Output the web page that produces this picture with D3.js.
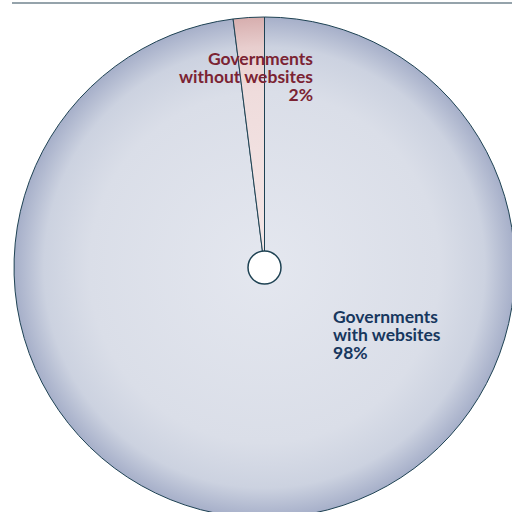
<!DOCTYPE html>
<html><head><meta charset="utf-8">
<script src="https://cdn.jsdelivr.net/npm/d3@7"></script>
<style>html,body{margin:0;padding:0;background:#fff;}svg{display:block;}</style>
</head><body>
<svg id="c" width="512" height="512"></svg>
<script>
const categories = ["Governments with websites", "Governments without websites"];
const values = [98, 2];
const labelLines = [["Governments", "with websites", "98%"], ["Governments", "without websites", "2%"]];

const W = 512, H = 512;
const cx = 264.5, cy = 267.5, R = 250.5, r0 = 16.5;
const svg = d3.select("#c");

const defs = svg.append("defs");
const g1 = defs.append("radialGradient").attr("id", "gBlue").attr("gradientUnits", "userSpaceOnUse")
  .attr("cx", 0).attr("cy", 0).attr("r", R);
[[0, "#e4e7ef"], [0.7, "#dadee8"], [0.88, "#ccd2e0"], [1, "#a6afc9"]].forEach(s =>
  g1.append("stop").attr("offset", s[0]).attr("stop-color", s[1]));
const g2 = defs.append("radialGradient").attr("id", "gPink").attr("gradientUnits", "userSpaceOnUse")
  .attr("cx", 0).attr("cy", 0).attr("r", R);
[[0, "#f5e8e8"], [0.7, "#efdcdc"], [0.88, "#e8cece"], [1, "#d7aeae"]].forEach(s =>
  g2.append("stop").attr("offset", s[0]).attr("stop-color", s[1]));

// top rule
svg.append("line").attr("x1", 12).attr("x2", W).attr("y1", 3).attr("y2", 3)
  .attr("stroke", "#95a3ab").attr("stroke-width", 2);

const pie = d3.pie().sort(null)(values);
const arc = d3.arc().innerRadius(0).outerRadius(R);
const fills = ["url(#gBlue)", "url(#gPink)"];
const g = svg.append("g").attr("transform", `translate(${cx},${cy})`);
g.selectAll("path").data(pie).join("path")
  .attr("d", arc).attr("fill", (d, i) => fills[i])
  .attr("stroke", "#1e4253").attr("stroke-width", 1).attr("stroke-linejoin", "round");
g.append("circle").attr("r", r0).attr("fill", "#fff").attr("stroke", "#1e4253").attr("stroke-width", 1.5);

const colors = ["#17375e", "#7b2333"];
const pos = [{x: 333, y: 323, anchor: "start"}, {x: 313, y: 65, anchor: "end"}];
labelLines.forEach((lines, i) => {
  const t = svg.append("text").attr("x", pos[i].x).attr("y", pos[i].y)
    .attr("text-anchor", pos[i].anchor).attr("fill", colors[i])
    .style("font-family", "Lato, sans-serif").style("font-weight", "bold").style("font-size", "17.5px");
  lines.forEach((l, j) => t.append("tspan").attr("x", pos[i].x).attr("y", pos[i].y + j * 18).text(l));
});
</script>
</body></html>
